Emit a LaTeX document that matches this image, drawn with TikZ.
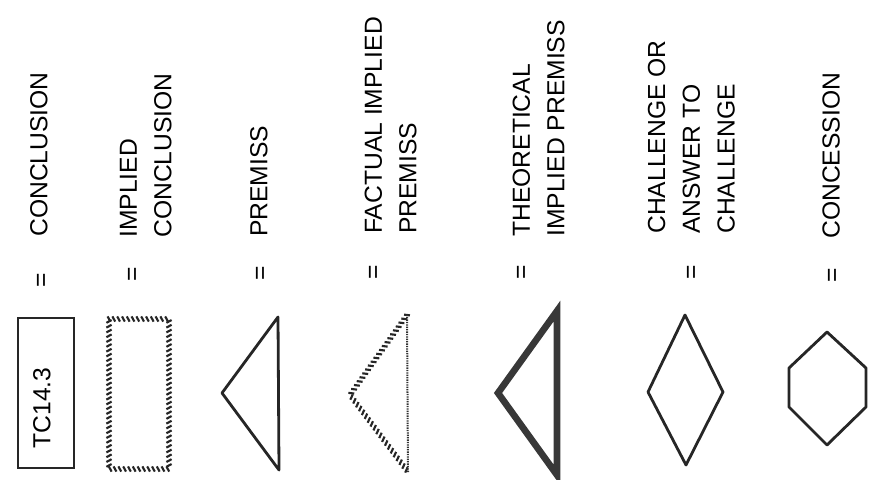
\documentclass[tikz,border=0pt]{standalone}
\usepackage{fontspec}
\setmainfont{Liberation Sans}
\usetikzlibrary{decorations.markings}
\begin{document}
\begin{tikzpicture}[x=0.75pt,y=-0.75pt,
  lbl/.style={rotate=90, anchor=south west, inner sep=0pt, align=left, font=\fontsize{18.5}{26}\selectfont},
  eqs/.style={rotate=90, inner sep=0pt, font=\fontsize{18.5}{26}\selectfont},
  shp/.style={draw=black!85, line width=2.1pt, line join=round},
  hatch/.style={postaction={decorate, decoration={markings,
     mark=between positions 0 and 1 step 3.6pt with {\draw[black!85, line width=1.6pt] (-1.4,-2.6) -- (1.4,2.6);}}}},
  dots/.style={draw=black!80, line width=1.5pt, dash pattern=on 1pt off 0.8pt},
  thickgray/.style={draw=black!78, line width=5pt, line join=miter},
]
\useasboundingbox (0,0) rectangle (871,479);

% labels
\node[lbl] (l1) at (48,237) {CONCLUSION};
\node[lbl] (l2) at (172,238) {IMPLIED\\CONCLUSION};
\node[lbl] (l3) at (268,237) {PREMISS};
\node[lbl] (l4) at (417,234) {FACTUAL IMPLIED\\PREMISS};
\node[lbl] (l5) at (565,237) {THEORETICAL\\IMPLIED PREMISS};
\node[lbl] (l6) at (735,234) {CHALLENGE OR\\ANSWER TO\\CHALLENGE};
\node[lbl] (l7) at (840,239) {CONCESSION};

% equals signs
\node[eqs] (e1) at (43,280) {=};
\node[eqs] (e2) at (134,274) {=};
\node[eqs] (e3) at (262,273) {=};
\node[eqs] (e4) at (375,272) {=};
\node[eqs] (e5) at (523,272) {=};
\node[eqs] (e6) at (693,272) {=};
\node[eqs] (e7) at (834,275) {=};

% conclusion box
\draw[shp, line join=miter] (18,318) rectangle (74,468);
\node[rotate=90, inner sep=0pt, font=\fontsize{18.5}{26}\selectfont] (tc) at (42,408) {TC14.3};

% implied conclusion box
\path[hatch] (109,319) -- (169,319) -- (169,469) -- (109,469) -- cycle;

% premiss
\draw[shp] (278,317) -- (222,393) -- (279,470) -- cycle;

% factual implied premiss
\path[hatch] (407,315) -- (350,395) -- (408,472);
\draw[dots] (408,472) -- (407,315);

% theoretical implied premiss
\draw[thickgray] (557,311) -- (498,393) -- (557,475) -- cycle;

% challenge
\draw[shp] (685,315) -- (723,392) -- (686,465) -- (648,392) -- cycle;

% concession
\draw[shp] (827,332) -- (866,368) -- (866,407) -- (827,445) -- (789,407) -- (789,368) -- cycle;
\end{tikzpicture}
\end{document}
